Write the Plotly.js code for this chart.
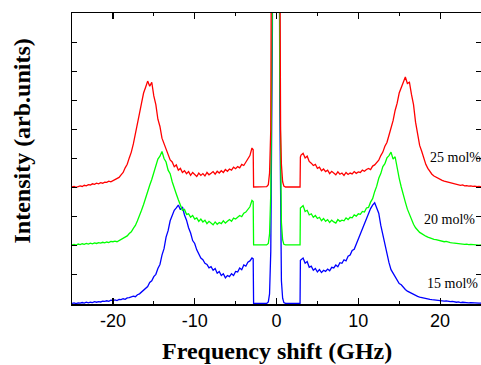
<!DOCTYPE html>
<html>
<head>
<meta charset="utf-8">
<script src="https://cdn.plot.ly/plotly-3.0.1.min.js"></script>
<style>html,body{margin:0;padding:0;background:#fff;}#chart{width:481px;height:365px;}</style>
</head>
<body>
<div id="chart"></div>
<script>
// Frequency shift sampling (GHz)
const freqLeft = [-25,-24.75,-24.5,-24.25,-24,-23.75,-23.5,-23.25,-23,-22.75,-22.5,-22.25,-22,-21.75,-21.5,-21.25,-21,-20.75,-20.5,-20.25,-20,-19.75,-19.5,-19.25,-19,-18.75,-18.5,-18.25,-18,-17.75,-17.5,-17.25,-17,-16.75,-16.5,-16.25,-16,-15.75,-15.5,-15.25,-15,-14.75,-14.5,-14.25,-14,-13.75,-13.5,-13.25,-13,-12.75,-12.5,-12.25,-12,-11.75,-11.5,-11.25,-11,-10.75,-10.5,-10.25,-10,-9.75,-9.5,-9.25,-9,-8.75,-8.5,-8.25,-8,-7.75,-7.5,-7.25,-7,-6.75,-6.5,-6.25,-6,-5.75,-5.5,-5.25,-5,-4.75,-4.5,-4.25,-4,-3.75,-3.5,-3.25,-3];
const freqMid = [-2.85,-2.8,-2,-1.2,-1,-0.85,-0.7,-0.6,-0.5,-0.3,-0.1,0.1,0.3,0.4,0.5,0.6,0.75,0.9,1.1,2,2.88,2.92];
const freqRight = [3,3.25,3.5,3.75,4,4.25,4.5,4.75,5,5.25,5.5,5.75,6,6.25,6.5,6.75,7,7.25,7.5,7.75,8,8.25,8.5,8.75,9,9.25,9.5,9.75,10,10.25,10.5,10.75,11,11.25,11.5,11.75,12,12.25,12.5,12.75,13,13.25,13.5,13.75,14,14.25,14.5,14.75,15,15.25,15.5,15.75,16,16.25,16.5,16.75,17,17.25,17.5,17.75,18,18.25,18.5,18.75,19,19.25,19.5,19.75,20,20.25,20.5,20.75,21,21.25,21.5,21.75,22,22.25,22.5,22.75,23,23.25,23.5,23.75,24,24.25,24.5,24.75,25];

// 25 mol% (red), offset spectrum
const red25Left = [4.02,4.04,4.01,4.05,4.06, 4.04,4.08,4.06,4.10, 4.09,4.13,4.11,4.15, 4.13,4.17,4.15,4.19, 4.18,4.22,4.20,4.24, 4.26,4.31,4.35,4.44, 4.52,4.68,4.80,5.02, 5.22,5.50,5.82,6.15, 6.55,6.90,7.25,7.45, 7.66,7.48,7.62,7.15, 6.85,6.35,6.10,5.70, 5.50,5.28,5.12,4.95, 4.88,4.72,4.78,4.60, 4.66,4.52,4.58,4.48, 4.55,4.42,4.52,4.45, 4.38,4.50,4.42,4.48, 4.40,4.52,4.44,4.49, 4.55,4.46,4.56,4.50, 4.58,4.52,4.62,4.56, 4.64,4.60,4.70,4.65, 4.72,4.68,4.80,4.76, 4.88,4.98,5.10,5.36];
const red25Mid = [5.30,4.02,4.02,4.03,4.10,4.50,6.00,7.50,11.5,40,60,55,20,9,6.0,4.8,4.2,4.05,4.02,4.02,4.02,5.05];
const red25Right = [5.12, 5.18,5.02,5.08,4.90, 4.84,4.76,4.80,4.66, 4.70,4.58,4.64,4.55, 4.60,4.48,4.56,4.50, 4.44,4.54,4.46,4.50, 4.42,4.52,4.45,4.50, 4.47,4.55,4.49,4.54, 4.52,4.60,4.56,4.62, 4.66,4.62,4.74,4.78, 4.88,4.94,5.10,5.22, 5.42,5.55,5.80,6.05, 6.30,6.65,6.90,7.25, 7.42,7.62,7.80,7.58, 7.62,7.20,6.85,6.25, 5.85,5.45,5.25,4.98, 4.80,4.66,4.55,4.46, 4.40,4.36,4.31,4.28, 4.25,4.22,4.20,4.18, 4.16,4.14,4.13,4.11, 4.10,4.08,4.09,4.06, 4.07,4.05,4.06,4.04, 4.05,4.03,4.04,4.03];

// 20 mol% (green)
const green20Left = [2.03,2.05,2.02,2.06,2.04, 2.07,2.05,2.08,2.06, 2.09,2.07,2.10,2.08, 2.11,2.09,2.12,2.10, 2.13,2.11,2.15,2.14, 2.16,2.14,2.18,2.21, 2.24,2.30,2.34,2.42, 2.48,2.60,2.70,2.86, 3.02,3.22,3.42,3.66, 3.82,4.08,4.28,4.52, 4.70,4.98,5.08,5.24, 5.00,4.88,4.60,4.48, 4.20,4.02,3.78,3.58, 3.42,3.22,3.25,3.08, 3.10,2.98,3.04,2.92, 2.96,2.84,2.92,2.82, 2.88,2.76,2.84,2.78, 2.72,2.82,2.74,2.80, 2.76,2.86,2.78,2.84, 2.90,2.84,2.95,2.92, 2.98,3.04,3.00,3.12, 3.16,3.24,3.34,3.56];
const green20Mid = [3.52,2.03,2.03,2.03,2.08,2.40,3.80,6.50,11,40,60,55,19,8,4.4,2.8,2.2,2.05,2.03,2.03,2.03,3.30];
const green20Right = [3.32, 3.38,3.18,3.22,3.06, 3.10,2.98,3.04,2.94, 2.98,2.86,2.94,2.84, 2.90,2.80,2.88,2.82, 2.78,2.90,2.84,2.88, 2.86,2.96,2.90,2.98, 2.96,3.06,3.02,3.10, 3.08,3.18,3.16,3.30, 3.32,3.50,3.62,3.86, 4.05,4.32,4.48,4.72, 4.82,5.02,5.10,5.22, 4.98,5.06,4.62,4.32, 4.02,3.80,3.50,3.26, 3.08,2.88,2.74,2.62, 2.54,2.46,2.42,2.36, 2.33,2.30,2.27,2.25, 2.22,2.21,2.19,2.18, 2.16,2.14,2.15,2.12, 2.11,2.10,2.09,2.08, 2.08,2.06,2.07,2.05, 2.06,2.04,2.05,2.04, 2.03,2.04,2.02,2.03];

// 15 mol% (blue)
const blue15Left = [0.02,0.04,0.01,0.04,0.03, 0.05,0.03,0.06,0.04, 0.06,0.05,0.08,0.06, 0.08,0.07,0.10,0.09, 0.11,0.09,0.13,0.12, 0.14,0.12,0.16,0.15, 0.18,0.16,0.21,0.22, 0.24,0.27,0.25,0.32, 0.35,0.42,0.46,0.55, 0.60,0.74,0.80,0.94, 1.02,1.22,1.36,1.68, 1.90,2.30,2.52,2.86, 3.02,3.22,3.30,3.40, 3.24,3.34,3.06,2.88, 2.62,2.44,2.18,2.08, 1.86,1.74,1.58,1.52, 1.40,1.36,1.24,1.28, 1.16,1.22,1.06,1.12, 0.98,1.04,0.90,0.98, 0.94,1.04,0.98,1.12, 1.10,1.24,1.18,1.34, 1.30,1.44,1.48,1.58];
const blue15Mid = [1.55,0.02,0.02,0.02,0.07,0.35,1.80,4.50,9.5,40,60,55,18,7,2.4,0.8,0.2,0.05,0.02,0.02,0.02,1.50];
const blue15Right = [1.52, 1.58,1.40,1.46,1.26, 1.30,1.16,1.22,1.10, 1.18,1.08,1.16,1.12, 1.20,1.14,1.26,1.24, 1.34,1.28,1.42,1.40, 1.52,1.48,1.64,1.68, 1.84,1.88,2.06,2.22, 2.36,2.60,2.72,2.96, 3.10,3.28,3.40,3.48, 3.30,3.12,2.70,2.36, 2.02,1.70,1.42,1.18, 1.06,0.90,0.82,0.70, 0.66,0.56,0.50,0.44, 0.40,0.36,0.32,0.30, 0.26,0.24,0.22,0.20, 0.19,0.17,0.16,0.15, 0.14,0.13,0.14,0.12, 0.11,0.10,0.11,0.09, 0.08,0.09,0.07,0.06, 0.07,0.05,0.06,0.05, 0.05,0.04,0.05,0.04, 0.03,0.04,0.03,0.03];

const seriesNames = ['15 mol%', '20 mol%', '25 mol%'];
const seriesColors = ['#0000ff', '#00ff00', '#ff0000'];
const labelPos = [[18.1, 0.72], [17.8, 2.92], [18.5, 5.02]];
const xTickVals = [-20, -10, 0, 10, 20];
const xTickText = ['-20', '-10', '0', '10', '20'];

const freq = freqLeft.concat(freqMid, freqRight);
const seriesY = [
  blue15Left.concat(blue15Mid, blue15Right),
  green20Left.concat(green20Mid, green20Right),
  red25Left.concat(red25Mid, red25Right)
];

const traces = seriesY.map((y, i) => ({
  x: freq, y: y, type: 'scatter', mode: 'lines', name: seriesNames[i],
  line: {color: seriesColors[i], width: 1.3}
}));

const annotations = seriesNames.map((n, i) => ({
  x: labelPos[i][0], y: labelPos[i][1], xref: 'x', yref: 'y', text: n,
  showarrow: false, xanchor: 'left', yanchor: 'middle',
  font: {family: 'Liberation Serif, Times New Roman, serif', size: 14, color: '#000'}
}));
annotations.push({
  x: 0.501, y: -0.16, xref: 'paper', yref: 'paper', showarrow: false,
  text: '<b>Frequency shift (GHz)</b>', xanchor: 'center', yanchor: 'middle',
  font: {family: 'Liberation Serif, Times New Roman, serif', size: 24, color: '#000'}
});
annotations.push({
  x: -0.121, y: 0.56, xref: 'paper', yref: 'paper', showarrow: false,
  text: '<b>Intensity (arb.units)</b>', textangle: -90, xanchor: 'center', yanchor: 'middle',
  font: {family: 'Liberation Serif, Times New Roman, serif', size: 24, color: '#000'}
});

const layout = {
  width: 481, height: 365,
  margin: {l: 72, r: 0, t: 13, b: 61, pad: 0},
  paper_bgcolor: '#fff', plot_bgcolor: '#fff',
  showlegend: false,
  xaxis: {
    range: [-25, 25], tickmode: 'array', tickvals: xTickVals, ticktext: xTickText,
    ticks: 'inside', ticklen: 6, tickwidth: 1.2, tickcolor: '#000',
    showline: true, linecolor: '#000', linewidth: 1.5, mirror: 'ticks',
    showgrid: false, zeroline: false,
    tickfont: {family: 'Liberation Sans, Arial, sans-serif', size: 18, color: '#000'},
    minor: {dtick: 5, tick0: 0, ticks: 'inside', ticklen: 3, tickcolor: '#000', tickwidth: 1, showgrid: false}
  },
  yaxis: {
    range: [0, 10], tick0: 0, dtick: 1, ticks: 'inside', ticklen: 5, tickwidth: 1, tickcolor: '#000',
    showline: true, linecolor: '#000', linewidth: 1.5, mirror: 'ticks',
    showgrid: false, zeroline: false, showticklabels: false
  },
  annotations: annotations
};

Plotly.newPlot('chart', traces, layout, {staticPlot: true, displayModeBar: false});
</script>
</body>
</html>
